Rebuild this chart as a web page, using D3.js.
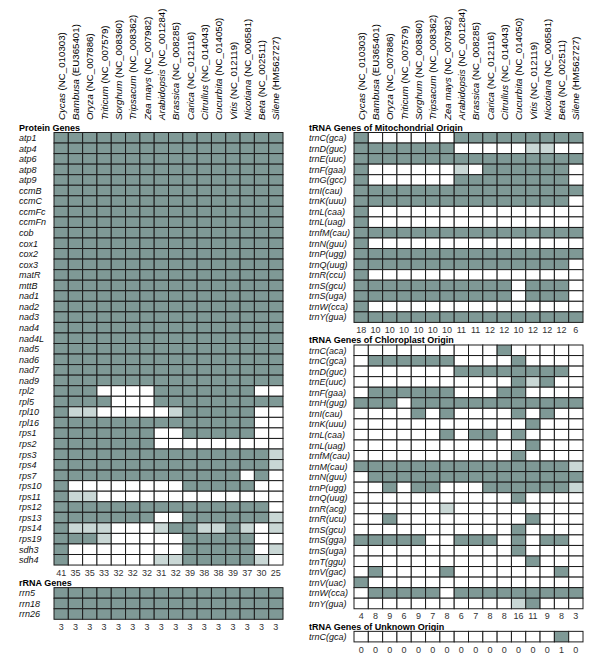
<!DOCTYPE html>
<html>
<head>
<meta charset="utf-8">
<script src="https://cdn.jsdelivr.net/npm/d3@7"></script>
<style>
  html, body { margin: 0; padding: 0; background: #fff; }
  svg { display: block; font-family: "Liberation Sans", Arial, Helvetica, sans-serif; }
</style>
</head>
<body>
<svg id="chart" width="600" height="654"></svg>
<script>
// ---------------- DATA ----------------
const genera = ["Cycas","Bambusa","Oryza","Triticum","Sorghum","Tripsacum","Zea mays","Arabidopsis","Brassica","Carica","Citrullus","Cucurbita","Vitis","Nicotiana","Beta","Silene"];
const accessions = ["NC_010303","EU365401","NC_007886","NC_007579","NC_008360","NC_008362","NC_007982","NC_001284","NC_008285","NC_012116","NC_014043","NC_014050","NC_012119","NC_006581","NC_002511","HM562727"];

// 1 = present, 2 = light (partial), 0 = absent
const proteinGenes = ["atp1","atp4","atp6","atp8","atp9","ccmB","ccmC","ccmFc","ccmFn","cob","cox1","cox2","cox3","matR","mttB","nad1","nad2","nad3","nad4","nad4L","nad5","nad6","nad7","nad9","rpl2","rpl5","rpl10","rpl16","rps1","rps2","rps3","rps4","rps7","rps10","rps11","rps12","rps13","rps14","rps19","sdh3","sdh4"];
const A = [1,1,1,1,1,1,1,1,1,1,1,1,1,1,1,1];
const proteinValues = [
  A,A,A,A,A,A,A,A,A,A,A,A,A,A,A,A,A,A,A,A,A,A,A,A,
  [1,1,1,0,0,0,0,1,1,1,1,1,1,1,0,0],
  [1,1,1,1,0,0,0,1,1,1,1,1,1,1,1,1],
  [1,2,2,0,0,0,0,0,2,1,1,1,1,1,0,0],
  [1,1,1,1,1,1,1,1,1,1,1,1,1,1,0,0],
  [1,1,1,1,1,1,1,0,0,1,1,1,1,1,0,0],
  [1,1,1,1,1,1,1,0,0,0,0,0,0,0,0,0],
  [1,1,1,1,1,1,1,1,1,1,1,1,1,1,1,2],
  [1,1,1,1,1,1,1,1,1,1,1,1,1,1,1,2],
  [1,1,1,1,1,1,1,1,1,1,1,1,1,0,1,0],
  [1,0,0,0,0,0,0,0,0,1,1,1,1,1,0,0],
  [1,2,2,0,0,0,0,0,0,0,0,0,0,0,0,0],
  [1,1,1,1,1,1,1,1,1,1,1,1,1,1,1,0],
  [1,1,1,1,1,1,1,0,0,1,1,1,1,1,1,2],
  [1,2,2,2,0,0,0,2,1,1,2,2,1,2,0,2],
  [1,1,1,2,0,0,0,0,0,1,1,1,1,1,0,0],
  [1,0,0,0,0,0,0,0,0,1,1,1,1,1,0,2],
  [1,0,0,0,0,0,0,2,2,1,1,1,1,1,2,0]
];
const proteinCounts = [41,35,35,33,32,32,32,31,32,39,38,38,39,37,30,25];

const rrnaGenes = ["rrn5","rrn18","rrn26"];
const rrnaValues = [A, A, A];
const rrnaCounts = [3,3,3,3,3,3,3,3,3,3,3,3,3,3,3,3];

const mitoGenes = ["trnC(gca)","trnD(guc)","trnE(uuc)","trnF(gaa)","trnG(gcc)","trnI(cau)","trnK(uuu)","trnL(caa)","trnL(uag)","trnfM(cau)","trnN(guu)","trnP(ugg)","trnQ(uug)","trnR(ccu)","trnS(gcu)","trnS(uga)","trnW(cca)","trnY(gua)"];
const mitoValues = [
  [1,0,0,0,0,0,0,1,1,1,1,1,1,1,1,1],
  [1,1,1,1,1,1,1,0,0,0,0,0,2,2,0,0],
  [1,1,1,1,1,1,1,1,1,1,1,1,1,1,1,1],
  [1,0,0,0,0,0,0,2,0,1,1,1,1,1,1,0],
  [1,0,0,0,0,0,0,1,1,1,1,1,1,1,1,0],
  [1,1,1,1,1,1,1,1,1,1,1,1,1,1,1,1],
  [1,1,1,1,1,1,1,1,1,1,1,1,1,1,1,0],
  [1,0,0,0,0,0,0,0,0,0,0,0,0,0,0,0],
  [1,0,0,0,0,0,0,0,0,0,0,0,0,0,0,0],
  [1,1,1,1,1,1,1,1,1,1,1,1,1,1,1,1],
  [1,0,0,0,0,0,0,0,0,0,0,0,0,0,0,0],
  [1,1,1,1,1,1,1,1,1,1,1,1,1,1,1,1],
  [1,1,1,1,1,1,1,1,1,1,1,1,1,1,1,0],
  [1,0,0,0,0,0,0,0,0,0,0,0,0,0,0,0],
  [1,1,1,1,1,1,1,1,1,1,1,0,1,1,1,0],
  [1,1,1,1,1,1,1,1,1,1,1,0,1,1,1,0],
  [1,0,0,0,0,0,0,0,0,0,0,0,0,0,0,0],
  [1,1,1,1,1,1,1,1,1,1,1,1,1,1,1,1]
];
const mitoCounts = [18,10,10,10,10,10,10,11,11,12,12,10,12,12,12,6];

const chloroGenes = ["trnC(aca)","trnC(gca)","trnD(guc)","trnE(uuc)","trnF(gaa)","trnH(gug)","trnI(cau)","trnK(uuu)","trnL(caa)","trnL(uag)","trnfM(cau)","trnM(cau)","trnN(guu)","trnP(ugg)","trnQ(uug)","trnR(acg)","trnR(ucu)","trnS(gcu)","trnS(gga)","trnS(uga)","trnT(ggu)","trnV(gac)","trnV(uac)","trnW(cca)","trnY(gua)"];
const chloroValues = [
  [0,0,0,0,0,0,0,0,0,0,1,0,0,0,0,0],
  [0,1,1,1,1,1,1,0,0,0,0,1,0,0,0,0],
  [0,0,0,0,0,0,0,1,1,1,1,1,1,1,1,0],
  [0,0,0,0,0,0,0,0,0,0,0,1,2,1,0,0],
  [0,1,1,1,1,1,1,0,0,0,1,1,0,0,0,0],
  [1,1,1,0,1,1,1,1,1,1,1,1,1,1,1,1],
  [0,0,0,0,1,0,1,0,0,0,0,1,0,1,0,0],
  [0,0,0,0,0,0,0,0,0,0,0,0,1,0,0,0],
  [0,0,0,0,0,0,1,0,1,1,0,1,0,0,0,0],
  [0,0,0,0,0,0,0,0,0,0,0,0,1,0,0,0],
  [0,0,0,0,0,0,0,0,0,0,0,1,0,0,0,0],
  [1,1,1,1,1,1,1,1,1,1,1,1,1,1,1,2],
  [0,1,1,1,1,1,1,1,1,1,1,1,1,1,1,1],
  [0,0,1,0,1,1,0,0,0,1,1,1,1,1,1,2],
  [0,0,0,0,0,0,0,0,0,0,0,1,0,0,0,0],
  [0,0,0,0,0,0,2,0,0,0,0,0,0,0,0,0],
  [0,0,1,0,0,0,0,0,0,0,0,0,1,0,0,0],
  [0,0,0,0,0,0,0,0,0,0,0,1,0,0,0,0],
  [1,1,1,1,1,0,0,1,1,1,0,1,0,1,1,0],
  [0,0,0,0,0,0,0,0,0,0,0,1,0,0,0,0],
  [0,0,0,0,0,0,0,0,0,0,0,0,1,0,0,0],
  [0,1,0,0,0,0,1,0,0,0,0,0,0,0,1,0],
  [1,0,0,0,0,0,0,0,0,0,0,0,0,0,0,0],
  [0,1,1,1,1,1,0,1,1,1,1,1,1,1,1,1],
  [0,0,0,0,0,0,0,0,0,0,0,2,1,0,0,0]
];
const chloroCounts = [4,8,9,6,9,7,8,6,7,8,8,16,11,9,8,3];

const unknownGenes = ["trnC(gca)"];
const unknownValues = [[0,0,0,0,0,0,0,0,0,0,0,0,0,0,1,0]];
const unknownCounts = [0,0,0,0,0,0,0,0,0,0,0,0,0,0,1,0];

// ---------------- DRAWING ----------------
const svg = d3.select("#chart");
const ROW = 10.55;
const GAP = 22.6;
const TOP = 132.5;
const fillFor = v => v === 1 ? "#7f9996" : (v === 2 ? "#c9d7d5" : "#ffffff");

const xLeft = d3.scaleBand().domain(genera).range([54, 283]).paddingInner(0).paddingOuter(0);
const xRight = d3.scaleBand().domain(genera).range([354, 583]).paddingInner(0).paddingOuter(0);

function headers(x) {
  const g = svg.append("g");
  genera.forEach((gen, i) => {
    const t = g.append("text")
      .attr("transform", `translate(${x(gen) + x.bandwidth()/2 + 3.6},120) rotate(-90)`)
      .attr("font-size", 9.7)
      .attr("fill", "#000");
    t.append("tspan").attr("font-style", "italic").text(gen);
    t.append("tspan").text(" (" + accessions[i] + ")");
  });
}

function section(x, labelX, title, genes, values, counts, top) {
  const y = d3.scaleBand().domain(genes).range([top, top + genes.length * ROW]).paddingInner(0);
  const g = svg.append("g");
  g.append("text")
    .attr("x", labelX).attr("y", top - 1.6)
    .attr("font-size", 9).attr("font-weight", "bold")
    .text(title);
  genes.forEach((gene, r) => {
    g.append("text")
      .attr("x", labelX).attr("y", y(gene) + y.bandwidth()/2 + 3.3)
      .attr("font-size", 9).attr("font-style", "italic").attr("fill", "#111")
      .text(gene);
    g.selectAll(null).data(values[r].map((v, c) => ({v, sp: genera[c]})))
      .enter().append("rect")
      .attr("x", d => x(d.sp))
      .attr("y", y(gene))
      .attr("width", x.bandwidth())
      .attr("height", y.bandwidth())
      .attr("fill", d => fillFor(d.v))
      .attr("stroke", "#1c1c1c")
      .attr("stroke-width", 1);
  });
  const bottom = top + genes.length * ROW;
  g.selectAll(null).data(counts.map((c, i) => ({c, sp: genera[i]})))
    .enter().append("text")
    .attr("x", d => x(d.sp) + x.bandwidth()/2)
    .attr("y", bottom + 10.6)
    .attr("text-anchor", "middle")
    .attr("font-size", 9).attr("fill", "#333")
    .text(d => d.c);
  return bottom;
}

headers(xLeft);
headers(xRight);

let b = section(xLeft, 19, "Protein Genes", proteinGenes, proteinValues, proteinCounts, TOP);
section(xLeft, 19, "rRNA Genes", rrnaGenes, rrnaValues, rrnaCounts, b + GAP);

b = section(xRight, 309, "tRNA Genes of Mitochondrial Origin", mitoGenes, mitoValues, mitoCounts, TOP);
b = section(xRight, 309, "tRNA Genes of Chloroplast Origin", chloroGenes, chloroValues, chloroCounts, b + GAP);
section(xRight, 309, "tRNA Genes of Unknown Origin", unknownGenes, unknownValues, unknownCounts, b + GAP);
</script>
</body>
</html>
